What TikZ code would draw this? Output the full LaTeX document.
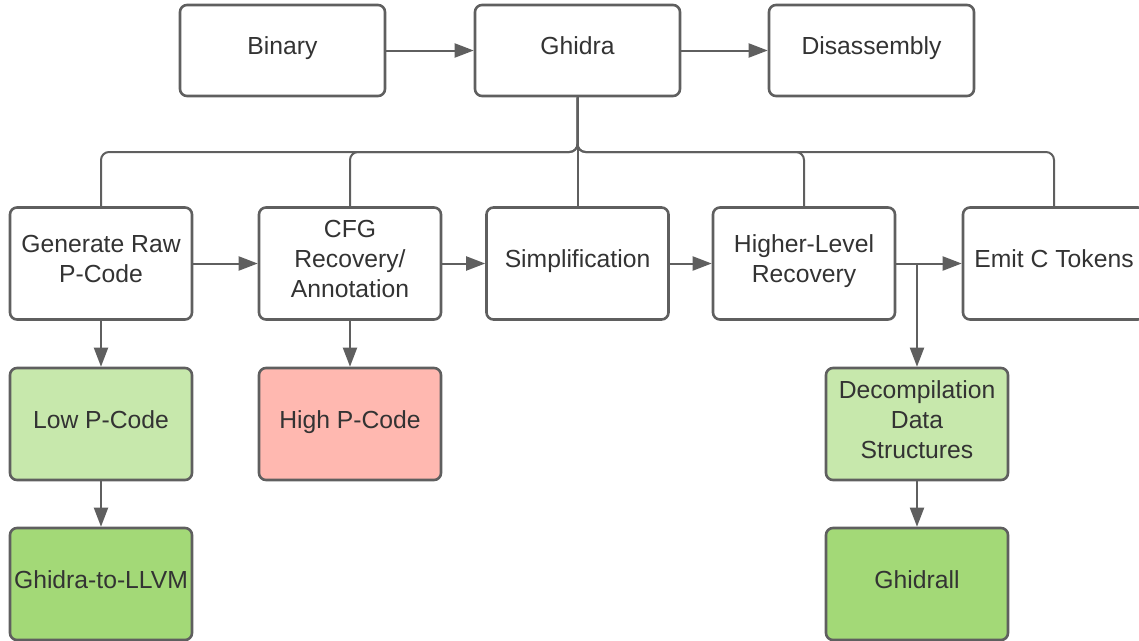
\documentclass[tikz,border=0pt]{standalone}
\usepackage{fontspec}
\setmainfont{Liberation Sans}
\usetikzlibrary{arrows.meta}
\definecolor{edge}{HTML}{5F5F5F}
\definecolor{ink}{HTML}{333333}
\definecolor{lightgreen}{HTML}{C7E8AC}
\definecolor{darkgreen}{HTML}{A3D977}
\definecolor{salmon}{HTML}{FFB8B0}
\tikzset{
  box/.style={draw=edge, fill=white, rectangle, rounded corners=7pt, line width=2.6pt,
    text=ink, align=center, font=\fontsize{24.7}{30}\selectfont,
    execute at end node={\rule[-9pt]{0pt}{1pt}}},
  topbox/.style={box, minimum width=205pt, minimum height=91pt},
  stepbox/.style={box, minimum width=182pt, minimum height=112pt},
  link/.style={draw=edge, line width=2pt}
}
\begin{document}
\begin{tikzpicture}[x=1pt, y=-1pt, >={Triangle[length=19pt,width=14pt]}]
\useasboundingbox (0,0) rectangle (1139,640);
\node[topbox] (bin) at (282.5,50.5) {Binary};
\node[topbox] (ghidra) at (577.5,50.5) {Ghidra};
\node[topbox] (disasm) at (871.5,50.5) {Disassembly};
\node[stepbox] (raw) at (101,263.5) {Generate Raw\\P-Code};
\node[stepbox] (cfg) at (350,263.5) {CFG\\Recovery/\\Annotation};
\node[stepbox] (simp) at (577.5,263.5) {Simplification};
\node[stepbox] (hlr) at (804,263.5) {Higher-Level\\Recovery};
\node[stepbox] (emit) at (1054,263.5) {Emit C Tokens};
\node[stepbox, fill=lightgreen] (low) at (101,424) {Low P-Code};
\node[stepbox, fill=salmon] (high) at (350,424) {High P-Code};
\node[stepbox, fill=lightgreen] (dds) at (917,424) {Decompilation\\Data\\Structures};
\node[stepbox, fill=darkgreen] (llvm) at (101,584) {Ghidra-to-LLVM};
\node[stepbox, fill=darkgreen] (ghidrall) at (917,584) {Ghidrall};
\draw[link, ->] (bin) -- (ghidra);
\draw[link, ->] (ghidra) -- (disasm);
% fan out from Ghidra to the pipeline stages
\coordinate (bus) at (577.5,152);
\draw[link, rounded corners=8pt] (ghidra.south) -- (bus) -| (raw.north);
\draw[link, rounded corners=8pt] (ghidra.south) -- (bus) -| (cfg.north);
\draw[link] (ghidra.south) -- (simp.north);
\draw[link, rounded corners=8pt] (ghidra.south) -- (bus) -| (hlr.north);
\draw[link, rounded corners=8pt] (ghidra.south) -- (bus) -| (emit.north);
\draw[link, ->] (raw) -- (cfg);
\draw[link, ->] (cfg) -- (simp);
\draw[link, ->] (simp) -- (hlr);
\draw[link, ->] (hlr) -- (emit);
\coordinate (split) at (dds.north |- hlr.east);
\draw[link, ->] (split) -- (dds.north);
\draw[link, ->] (raw) -- (low);
\draw[link, ->] (cfg) -- (high);
\draw[link, ->] (low) -- (llvm);
\draw[link, ->] (dds) -- (ghidrall);
\end{tikzpicture}
\end{document}
